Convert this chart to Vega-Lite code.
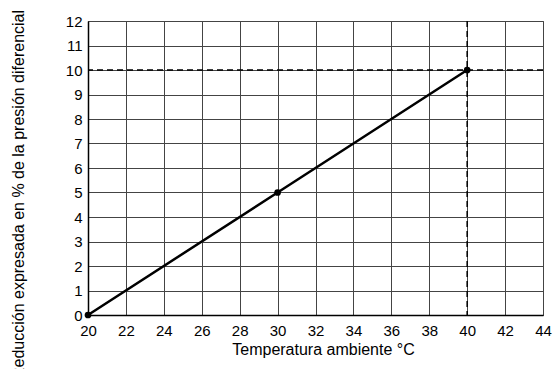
{
  "$schema": "https://vega.github.io/schema/vega-lite/v6.json",
  "autosize": {"type": "none"},
  "width": 455,
  "height": 294,
  "padding": {"left": 88, "top": 21, "right": 15, "bottom": 54},
  "background": "white",
  "config": {
    "font": "Liberation Sans",
    "view": {"stroke": "#555", "strokeWidth": 1},
    "axis": {
      "labelFont": "Liberation Sans",
      "titleFont": "Liberation Sans",
      "labelFontSize": 15,
      "titleFontSize": 16,
      "labelColor": "#000",
      "titleColor": "#000",
      "titleFontWeight": "normal",
      "labelOverlap": false,
      "ticks": false,
      "domainColor": "#000",
      "domainWidth": 1.5,
      "gridColor": "#444",
      "gridWidth": 1,
      "gridOpacity": 1
    }
  },
  "datasets": {
    "curve": [
      {"temp": 20, "red": 0},
      {"temp": 30, "red": 5},
      {"temp": 40, "red": 10}
    ],
    "vref": [{"temp": 40}],
    "href": [{"red": 10}]
  },
  "encoding": {
    "x": {
      "field": "temp", "type": "quantitative",
      "scale": {"domain": [20, 44], "nice": false},
      "axis": {"values": [20, 22, 24, 26, 28, 30, 32, 34, 36, 38, 40, 42, 44], "tickCount": 13, "title": "Temperatura ambiente °C", "labelPadding": 8, "titlePadding": 3, "titleX": 235, "labelFlush": false}
    },
    "y": {
      "field": "red", "type": "quantitative",
      "scale": {"domain": [0, 12], "nice": false},
      "axis": {"values": [0, 1, 2, 3, 4, 5, 6, 7, 8, 9, 10, 11, 12], "tickCount": 13, "title": "Reducción expresada en % de la presión diferencial", "labelPadding": 6, "titleX": -70, "titleY": 173, "titleAngle": -90, "titleAlign": "center", "titleBaseline": "middle", "labelFlush": false}
    }
  },
  "layer": [
    {
      "data": {"name": "vref"},
      "mark": {"type": "rule", "color": "#000", "strokeWidth": 1.5, "strokeDash": [6, 4]},
      "encoding": {"y": null}
    },
    {
      "data": {"name": "href"},
      "mark": {"type": "rule", "color": "#000", "strokeWidth": 1.5, "strokeDash": [6, 4]},
      "encoding": {"x": null}
    },
    {
      "data": {"name": "curve"},
      "mark": {"type": "line", "color": "#000", "strokeWidth": 2.5},
      "encoding": {}
    },
    {
      "data": {"name": "curve"},
      "mark": {"type": "point", "filled": true, "color": "#000", "opacity": 1, "size": 45},
      "encoding": {}
    }
  ]
}
